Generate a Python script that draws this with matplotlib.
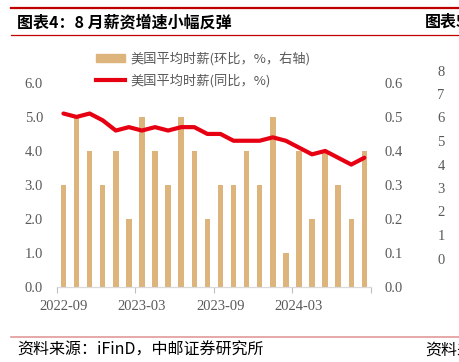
import matplotlib.pyplot as plt
import matplotlib.lines as mlines
import matplotlib.patches as mpatches

plt.rcParams['font.family'] = ['Noto Sans CJK SC', 'DejaVu Sans']

months = ["2022-09", "2022-10", "2022-11", "2022-12", "2023-01", "2023-02",
          "2023-03", "2023-04", "2023-05", "2023-06", "2023-07", "2023-08",
          "2023-09", "2023-10", "2023-11", "2023-12", "2024-01", "2024-02",
          "2024-03", "2024-04", "2024-05", "2024-06", "2024-07", "2024-08"]
mom = [0.3, 0.5, 0.4, 0.3, 0.4, 0.2, 0.5, 0.4, 0.3, 0.5, 0.4, 0.2,
       0.3, 0.3, 0.4, 0.3, 0.5, 0.1, 0.4, 0.2, 0.4, 0.3, 0.2, 0.4]
yoy = [5.1, 5.0, 5.1, 4.9, 4.6, 4.7, 4.6, 4.7, 4.6, 4.7, 4.7, 4.5,
       4.5, 4.3, 4.3, 4.3, 4.4, 4.3, 4.1, 3.9, 4.0, 3.8, 3.6, 3.8]
label_mom = "美国平均时薪(环比，%，右轴)"
label_yoy = "美国平均时薪(同比，%)"
title = "图表4：8 月薪资增速小幅反弹"
source = "资料来源：iFinD，中邮证券研究所"

bar_color = "#DDB47C"
line_color = "#E60012"
grey = "#595959"
serif = "Liberation Serif"

fig = plt.figure(figsize=(4.59, 3.62), dpi=100)
ax = fig.add_axes([0.124, 0.207, 0.684, 0.564])
ax2 = ax.twinx()

x = list(range(len(months)))
ax2.bar(x, mom, width=0.42, color=bar_color)
ax.plot(x, yoy, color=line_color, linewidth=3, solid_capstyle="round")

ax.set_zorder(ax2.get_zorder() + 1)
ax.patch.set_visible(False)

ax.set_xlim(-0.5, len(months) - 0.5)
ax.set_ylim(0, 6)
ax2.set_ylim(0, 0.6)
ax.set_yticks([0, 1, 2, 3, 4, 5, 6])
ax.set_yticklabels([f"{v:.1f}" for v in range(7)])
ax2.set_yticks([i / 10 for i in range(7)])
ax2.set_yticklabels([f"{i / 10:.1f}" for i in range(7)])

# tick marks between categories, labels on categories
ax.set_xticks([i - 0.5 for i in range(0, len(months) + 1, 6)])
ax.set_xticklabels([])
ax.set_xticks(list(range(0, len(months), 6)), minor=True)
ax.set_xticklabels([months[i] for i in range(0, len(months), 6)], minor=True)
ax.tick_params(axis="x", which="major", length=4, color="#BFBFBF", width=0.8)
ax.tick_params(axis="x", which="minor", length=0, pad=9)

for a in (ax, ax2):
    for s in ("top", "left", "right"):
        a.spines[s].set_visible(False)
    a.spines["bottom"].set_color("#D9D9D9")
    a.tick_params(axis="y", length=0, pad=10)
    for lab in a.get_yticklabels() + a.get_xticklabels(minor=True):
        lab.set_family(serif)
        lab.set_fontsize(10.5)
        lab.set_color(grey)

h1 = mpatches.Patch(color=bar_color)
h2 = mlines.Line2D([], [], color=line_color, linewidth=3)
fig.legend([h1, h2], [label_mom, label_yoy], loc="upper left",
           bbox_to_anchor=(0.195, 0.875), frameon=False, fontsize=9.5,
           handlelength=2.2, handleheight=0.6, labelspacing=0.6,
           handletextpad=0.4, labelcolor=grey, borderpad=0)

# header / footer rules
fig.add_artist(mlines.Line2D([0.024, 1], [1 - 8 / 362] * 2, color="#C00000", linewidth=1.6))
fig.add_artist(mlines.Line2D([0.024, 1], [1 - 35 / 362] * 2, color="#C00000", linewidth=0.9))
fig.add_artist(mlines.Line2D([0.024, 1], [1 - 337 / 362] * 2, color="#E39A9A", linewidth=1.2))

fig.text(17 / 459, 1 - 22 / 362, title, fontsize=11.5, fontweight="bold", va="center")
fig.text(425 / 459, 1 - 22 / 362, "图表5", fontsize=11.5, fontweight="bold", va="center")
fig.text(17 / 459, 1 - 350 / 362, source, fontsize=11.5, va="center")
fig.text(425 / 459, 1 - 350 / 362, "资料来", fontsize=11.5, va="center")

# neighbouring chart axis numbers cut at the edge
for i in range(9):
    fig.text(441 / 459, 1 - (260 - i * 23.5) / 362, str(i), family=serif,
             fontsize=10.5, color=grey, ha="center", va="center")

fig.savefig("out.png", dpi=100)
